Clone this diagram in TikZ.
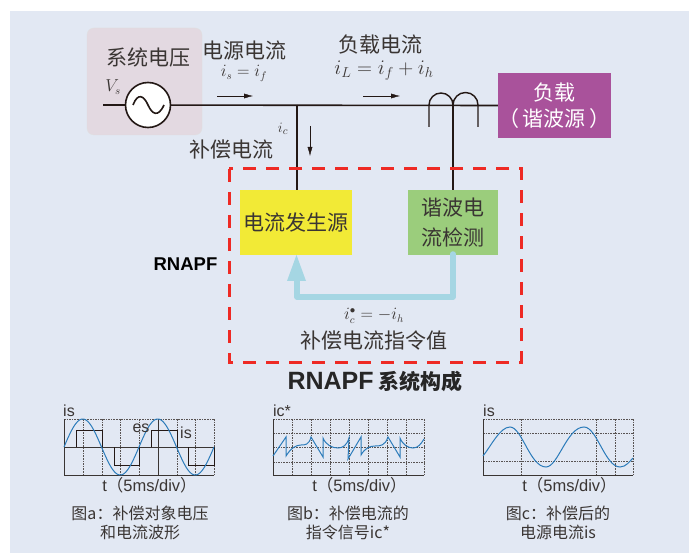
\documentclass[tikz,border=0pt]{standalone}
\usepackage{fontspec}
\setmainfont{Noto Sans CJK SC}
\setsansfont{Liberation Sans}
\newfontfamily\cjk{Noto Sans CJK SC}
\usepackage{amsmath}
\usepackage{color}
\usetikzlibrary{arrows.meta}
\definecolor{bgblue}{HTML}{E2E8F3}
\definecolor{srcpink}{HTML}{E3D9E1}
\definecolor{loadpurple}{HTML}{A9529B}
\definecolor{genyellow}{HTML}{F2EA36}
\definecolor{detgreen}{HTML}{9BCD7C}
\definecolor{cmdblue}{HTML}{A5D6E3}
\definecolor{dashred}{HTML}{EE2A24}
\definecolor{wireblack}{HTML}{231815}
\definecolor{waveblue}{HTML}{2B7BBA}
\definecolor{labelgrey}{HTML}{3A3533}
\newcommand{\timediv}{t{\cjk （}5ms/div{\cjk ）}}
\tikzset{
	wire/.style={draw=wireblack,line width=1.6pt},
	flow/.style={draw=wireblack,line width=0.35pt,-{Latex[length=9pt,width=5pt]}},
	cn/.style={text=labelgrey,font=\fontsize{21}{25}\selectfont,inner sep=0pt},
	capt/.style={text=labelgrey,font=\fontsize{16}{19}\selectfont,inner sep=0pt,align=center},
	eq/.style={text=labelgrey,inner sep=0pt},
	scale label/.style={text=labelgrey,font=\sffamily\fontsize{16}{18}\selectfont,inner sep=0pt},
	time label/.style={text=labelgrey,font=\sffamily\fontsize{16.5}{18}\selectfont,inner sep=0pt},
	grid line/.style={draw=labelgrey!85,line width=0.9pt,dash pattern=on 1.6pt off 1pt},
	axis line/.style={draw=labelgrey,line width=1pt},
	pulse/.style={draw=wireblack,line width=0.9pt},
	wave/.style={draw=waveblue,line width=1pt},
}
\begin{document}
\begin{tikzpicture}[x=1pt,y=-1pt]
	\useasboundingbox (0,0) rectangle (696,553);
	\fill[bgblue] (10,11) rectangle (689,553);

	% source and load
	\node[draw=black!12,fill=srcpink,rounded corners=7pt,minimum width=115pt,minimum height=107pt,inner sep=0pt] (source) at (144.5,81.5) {};
	\node[cn] (sourcetext) at (148,57) {系统电压};
	\node[fill=loadpurple,minimum width=113pt,minimum height=65pt,inner sep=0pt,align=center,text=white,font=\fontsize{21}{26}\selectfont] (load) at (554.5,105.5) {负载\\（\kern 4pt 谐波源\kern 4pt）};
	\coordinate (busleft) at (103,105);
	\coordinate (tap) at (297,105);
	\coordinate (sense) at (453,105);
	\draw[wire] (busleft) -- (load.west);
	\node[draw=wireblack,fill=white,line width=1.6pt,circle,minimum size=45pt,inner sep=0pt] (ac) at (148,105) {};
	\draw[wireblack,line width=1.6pt] (133,105) .. controls (138,92) and (144,96) .. (148,105) .. controls (152,114) and (158,118) .. (164,105);

	% blocks
	\node[fill=genyellow,minimum width=112pt,minimum height=65pt,cn] (generator) at (296,222.5) {电流发生源};
	\node[fill=detgreen,minimum width=90pt,minimum height=65pt,inner sep=0pt,align=center,text=labelgrey,font=\fontsize{21}{31}\selectfont] (detector) at (453,222.5) {谐波电\\流检测};
	\draw[wire] (tap) -- (tap |- generator.north);
	\draw[wire] (sense) -- (detector.north);
	\draw[dashred,line width=3pt,dash pattern=on 13pt off 10pt] (229,169) rectangle (521,362);

	% current transformer
	\draw[wireblack,line width=1.4pt] (429,127) -- (429,105) arc[start angle=180,end angle=0,radius=12pt] arc[start angle=180,end angle=0,radius=12.5pt] -- (478,127);

	% feedback
	\draw[cmdblue,line width=5.5pt,line cap=round,line join=round] (453,254) -- (453,297) -- (297,297) -- (297,277);
	\fill[cmdblue] (296.5,255) -- (306,281) -- (287,281) -- cycle;

	% flow arrows
	\coordinate (flowsa) at (217,96);
	\coordinate (flowsb) at (253,96);
	\coordinate (flowla) at (363,96);
	\coordinate (flowlb) at (400,96);
	\coordinate (flowca) at (310,126);
	\coordinate (flowcb) at (310,156);
	\draw[flow] (flowsa) -- (flowsb);
	\draw[flow] (flowla) -- (flowlb);
	\draw[flow] (flowca) -- (flowcb);

	% labels
	\node[cn] (srccurrent) at (244,51) {电源电流};
	\node[eq,font=\fontsize{16}{18}\selectfont] (srceq) at (244,73.5) {$i_s=i_f$};
	\node[cn] (loadcurrent) at (380,45) {负载电流};
	\node[eq,font=\fontsize{22}{24}\selectfont] (loadeq) at (384,71) {$i_L=i_f+i_h$};
	\node[cn] (compcurrent) at (231,149) {补偿电流};
	\node[eq,font=\fontsize{15}{18}\selectfont] (compi) at (283,129) {$i_c$};
	\node[eq,font=\fontsize{16}{18}\selectfont] (vs) at (113,87) {$V_s$};
	\node[text=black,font=\sffamily\bfseries\fontsize{18.5}{20}\selectfont,inner sep=0pt] (rnapf) at (185.5,264) {RNAPF};
	\node[eq,font=\fontsize{16}{18}\selectfont] (cmdeq) at (374,316) {$i_c^{\bullet}=-i_h$};
	\node[cn] (cmdtext) at (374,341) {补偿电流指令值};
	\node[text=black!85,inner sep=0pt,font=\fontsize{21}{24}\selectfont\bfseries] (systitle) at (375,381.5) {{\sffamily\fontsize{25}{24}\selectfont RNAPF} 系统构成};

	% plot a
	\foreach \gx in {83,102,120,139,177,195,214} \draw[grid line] (\gx,419) -- (\gx,475);
	\draw[grid line] (64,419) -- (214,419);
	\draw[axis line] (64,419) -- (64,475) -- (214,475);
	\draw[axis line] (64,447) -- (214,447);
	\draw[axis line] (158,419) -- (158,475);
	\draw[pulse] (76,447) -- (76,430) -- (102,430) -- (102,447);
	\draw[pulse] (114,447) -- (114,465) -- (139,465) -- (139,447);
	\draw[pulse] (151,447) -- (151,430) -- (177,430) -- (177,447);
	\draw[pulse] (188,447) -- (188,465) -- (214,465) -- (214,447);
	\draw[wave,domain=0:150,samples=120,smooth] plot ({64+\x},{447-28*sin(\x*4.8)});
	\node[scale label] (isa) at (69,411) {is};
	\node[scale label] (esa) at (141,428) {es};
	\node[scale label] (isb) at (186,433) {is};
	\node[time label] (ta) at (149.5,485) {\timediv};
	\node[capt] (capa) at (140,522.5) {图a：补偿对象电压\\和电流波形};

	% plot b
	\foreach \gx in {292,311,330,349,368,387,406,424} \draw[grid line] (\gx,419) -- (\gx,475);
	\foreach \gy in {419,433,447,462} \draw[grid line] (273,\gy) -- (424,\gy);
	\draw[axis line] (273,419) -- (273,475) -- (424,475);
	\draw[wave] (273,456) -- (286,437) -- (286,456) .. controls (291,448) and (296,445) .. (301,445) .. controls (305,445) and (309,445) .. (311,437) -- (323,457) -- (323,438) .. controls (326,445) and (332,448) .. (338,448) .. controls (343,448) and (347,445) .. (349,438) -- (348,459) -- (361,437) -- (361,455) .. controls (365,448) and (370,446) .. (375,446) .. controls (380,446) and (385,446) .. (388,437) -- (400,457) -- (400,438) .. controls (403,445) and (408,448) .. (413,448) .. controls (418,448) and (421,444) .. (424,439);
	\node[scale label] (icb) at (282,411) {ic*};
	\node[time label] (tb) at (359.5,485) {\timediv};
	\node[capt] (capb) at (348,522.5) {图b：补偿电流的\\指令信号ic*};

	% plot c
	\foreach \gx in {521,596,615,633} \draw[grid line] (\gx,419) -- (\gx,475);
	\foreach \gy in {419,433,461} \draw[grid line] (483,\gy) -- (633,\gy);
	\draw[axis line] (483,419) -- (483,475) -- (633,475);
	\draw[wave] (483,456) .. controls (491,446) and (500,427) .. (510,427) .. controls (522,427) and (530,467) .. (546,467) .. controls (558,467) and (567,427) .. (584,427) .. controls (597,427) and (605,467) .. (620,467) .. controls (626,467) and (630,461) .. (633,458);
	\node[scale label] (isc) at (489,411) {is};
	\node[time label] (tc) at (569.5,485) {\timediv};
	\node[capt] (capc) at (558,522.5) {图c：补偿后的\\电源电流is};
\end{tikzpicture}
\end{document}
